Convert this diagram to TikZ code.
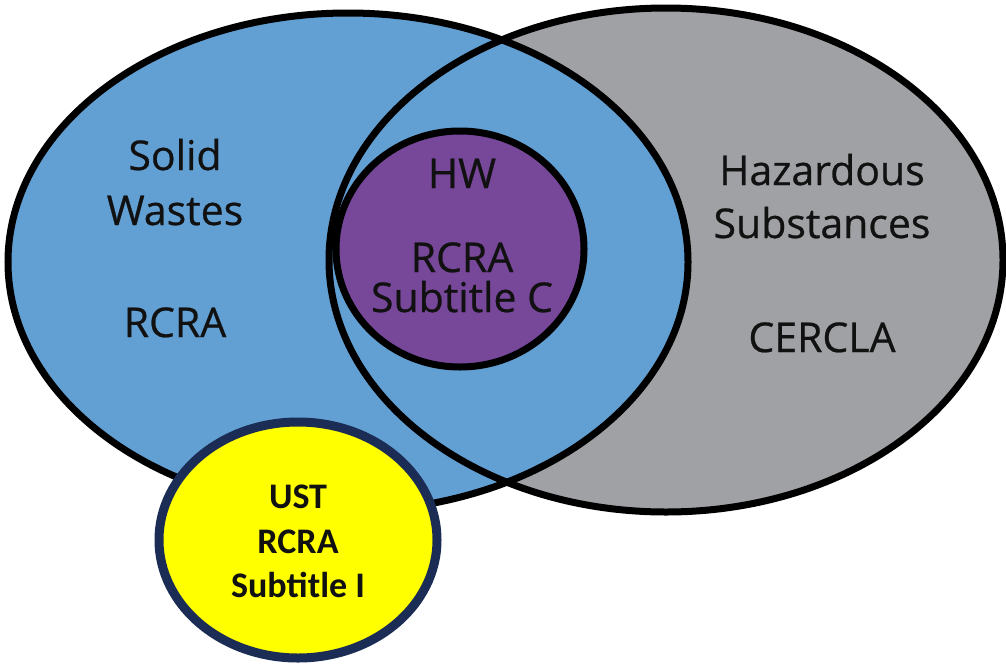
\documentclass[tikz,border=0pt]{standalone}
\usepackage{fontspec}
\newfontfamily\labfont[FakeBold=0.6]{Open Sans}
\newfontfamily\calfont{Carlito}
\definecolor{swblue}{HTML}{62A0D4}
\definecolor{hsgrey}{HTML}{A0A1A5}
\definecolor{hwpurple}{HTML}{77479A}
\definecolor{ustyellow}{HTML}{FFFF00}
\definecolor{ustborder}{HTML}{1B2D55}
\definecolor{txt}{HTML}{111111}
\tikzset{
  outline/.style={draw=black, line width=7pt},
  lab/.style={font=\labfont\fontsize{41}{50}\selectfont, text=txt, anchor=base, inner sep=0pt},
  ustlab/.style={font=\calfont\bfseries\fontsize{36}{44}\selectfont, text=txt, anchor=base, inner sep=0pt}
}
\begin{document}
\begin{tikzpicture}[x=1pt, y=-1pt]
\useasboundingbox (0,0) rectangle (1006,664);
\coordinate (sw) at (348,262);
\coordinate (hs) at (666,260);
\coordinate (hw) at (460,249);
\coordinate (ust) at (298,540);
% fills
\fill[hsgrey] (hs) ellipse [x radius=337, y radius=252];
\fill[swblue] (sw) ellipse [x radius=340, y radius=249];
% outlines
\draw[outline] (hs) ellipse [x radius=337, y radius=252];
\draw[outline] (sw) ellipse [x radius=340, y radius=249];
% HW circle
\draw[outline, fill=hwpurple] (hw) ellipse [x radius=124, y radius=118];
% UST circle
\draw[draw=ustborder, line width=9pt, fill=ustyellow] (ust) ellipse [x radius=139, y radius=118];
% labels
\node[lab] (sw1) at (175,170) {Solid};
\node[lab] (sw2) at (175,225) {Wastes};
\node[lab] (sw3) at (175,337) {RCRA};
\node[lab] (hw1) at (462,188) {HW};
\node[lab] (hw2) at (462,272) {RCRA};
\node[lab] (hw3) at (462,312) {Subtitle C};
\node[lab] (hs1) at (822,185) {Hazardous};
\node[lab] (hs2) at (822,238) {Substances};
\node[lab] (hs3) at (822,352) {CERCLA};
\node[ustlab] (u1) at (298,508) {UST};
\node[ustlab] (u2) at (298,553) {RCRA};
\node[ustlab] (u3) at (298,597) {Subtitle I};
\end{tikzpicture}
\end{document}
